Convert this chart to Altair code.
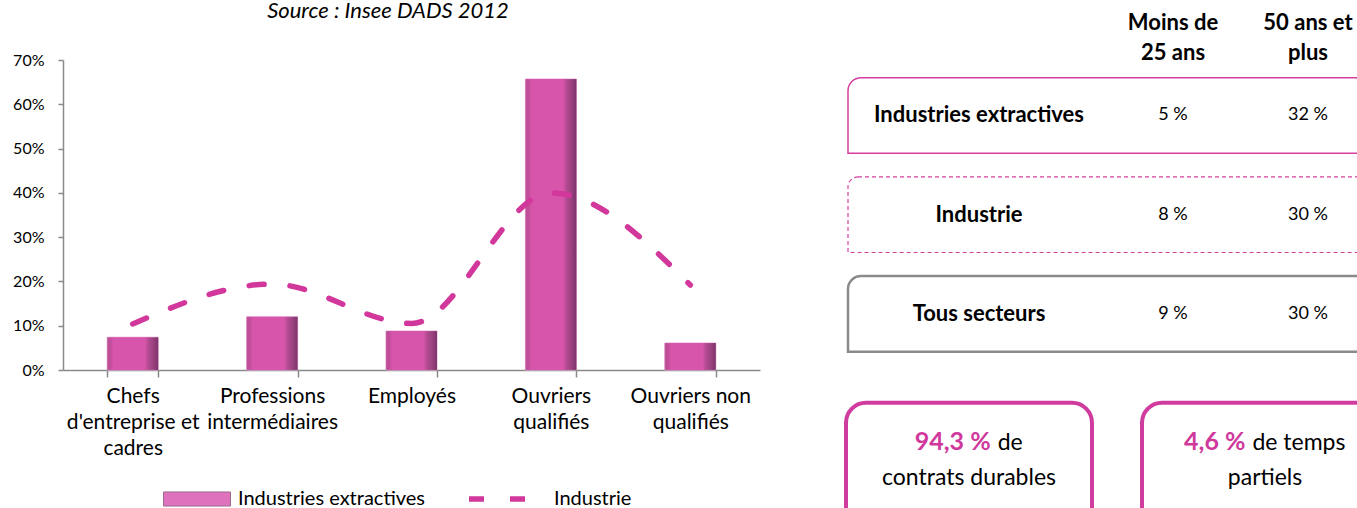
import altair as alt
import pandas as pd

# ---------------- data ----------------
categories = ["Chefs|d'entreprise et|cadres", "Professions|intermédiaires", "Employés",
              "Ouvriers|qualifiés", "Ouvriers non|qualifiés"]
extractives = [0.074, 0.120, 0.088, 0.657, 0.061]
industrie = [0.104, 0.194, 0.105, 0.400, 0.192]
y_ticks = [0, 0.1, 0.2, 0.3, 0.4, 0.5, 0.6, 0.7]
series_names = ["Industries extractives", "Industrie"]

table_rows = ["Industries extractives", "Industrie", "Tous secteurs"]
table_cols = ["Moins de 25 ans", "50 ans et plus"]
header_labels = ["Moins de\n25 ans", "50 ans et\nplus"]
moins_25 = ["5 %", "8 %", "9 %"]
plus_50 = ["32 %", "30 %", "30 %"]

kpi_values = ["94,3 %", "4,6 %"]
kpi_suite = ["de", "de temps"]
kpi_line2 = ["contrats durables", "partiels"]

source_text = ["Source : Insee DADS 2012"]

# ---------------- styles ----------------
FONT = "Lato"
PINK = "#D2389B"
GRAY = "#8A8A8A"

bars_df = pd.DataFrame({"cat": categories, "val": extractives, "serie": series_names[0]})
line_df = pd.DataFrame({"cat": categories, "val": industrie, "serie": series_names[1]})

x_enc = alt.X("cat:N", sort=categories,
              scale=alt.Scale(paddingInner=0.634, paddingOuter=0.317),
              axis=alt.Axis(title=None, labelExpr="split(datum.label, '|')", tickBand="extent",
                            labelAngle=0, labelFont=FONT, labelFontSize=21, labelLineHeight=26,
                            labelColor="black", labelPadding=8, labelLimit=0, labelOverlap=False,
                            domainColor=GRAY, domainWidth=1.5, tickColor=GRAY, tickWidth=1.5,
                            tickSize=7))
y_enc = alt.Y("val:Q", scale=alt.Scale(domain=[0, 0.7], nice=False),
              axis=alt.Axis(title=None, values=y_ticks, format=".0%", grid=False,
                            labelFont=FONT, labelFontSize=16, labelColor="black", labelPadding=14,
                            domainColor=GRAY, domainWidth=1.5, tickColor=GRAY, tickWidth=1.5,
                            tickSize=5))

bars = alt.Chart(bars_df).mark_bar(stroke="#EAA6D5", strokeWidth=1).encode(
    x=x_enc, y=y_enc,
    fill=alt.Fill("serie:N", scale=alt.Scale(domain=[series_names[0]], range=["#DE72BC"]),
                  legend=alt.Legend(title=None, orient="none", legendX=100, legendY=405,
                                    symbolType="M-1,-0.21H1V0.21H-1Z", symbolSize=4489,
                                    symbolStrokeColor="#9B6A8E", symbolStrokeWidth=1,
                                    labelFont=FONT, labelFontSize=20, labelColor="black",
                                    labelOffset=7, labelLimit=0)))
shade = alt.Chart(bars_df).mark_bar(fill={
    "gradient": "linear", "x1": 0, "x2": 1, "y1": 0, "y2": 0,
    "stops": [{"offset": 0, "color": "rgba(150,40,110,0.45)"},
              {"offset": 0.12, "color": "rgba(214,83,170,0.92)"},
              {"offset": 0.74, "color": "rgba(214,83,170,0.92)"},
              {"offset": 0.88, "color": "rgba(120,40,95,0.6)"},
              {"offset": 1, "color": "rgba(100,35,85,0.8)"}]}).encode(x=x_enc, y=y_enc)

line = alt.Chart(line_df).mark_line(interpolate="monotone", strokeWidth=5.5, strokeCap="round",
                                    color=PINK).encode(
    x=x_enc, y=y_enc,
    strokeDash=alt.StrokeDash("serie:N", scale=alt.Scale(domain=[series_names[1]], range=[[15, 26]]),
                              legend=alt.Legend(title=None, orient="none", legendX=403, legendY=399,
                                                symbolType="stroke", symbolSize=5476,
                                                symbolStrokeWidth=5.5, symbolStrokeColor=PINK,
                                                labelFont=FONT, labelFontSize=20,
                                                labelColor="black", labelOffset=8,
                                                labelLimit=0)))

left = alt.layer(bars, shade, line)

source = alt.Chart(pd.DataFrame({"t": source_text})).mark_text(
    font=FONT, fontSize=22, fontStyle="italic", color="black", align="center",
    baseline="alphabetic").encode(x=alt.value(325), y=alt.value(-42), text="t:N")

# ---------------- right side ----------------
rows_df = pd.DataFrame({"row": table_rows})
rows_scale = alt.Scale(type="band", domain=table_rows, range=[17.7, 291.7],
                       paddingInner=0.238, paddingOuter=0)
y_row = alt.Y("row:N", scale=rows_scale, axis=None)


def row_box(i, **style):
    return alt.Chart(rows_df).transform_filter(
        alt.datum.row == table_rows[i]).mark_rect(fill="white", **style).encode(
        y=y_row, x=alt.value(785), x2=alt.value(1340))


box1 = row_box(0, stroke="#D63F9F", strokeWidth=1.5, cornerRadiusTopLeft=13)
box2 = row_box(1, stroke="#D63F9F", strokeWidth=1.2, strokeDash=[4, 3], cornerRadiusTopLeft=10)
box3 = row_box(2, stroke=GRAY, strokeWidth=2.5, cornerRadiusTopLeft=13)

row_labels = alt.Chart(rows_df).mark_text(font=FONT, fontSize=22, fontWeight="bold",
                                          color="black", baseline="middle").encode(
    y=alt.Y("row:N", scale=rows_scale, axis=None, bandPosition=0.5),
    x=alt.value(916), text="row:N")

vals_df = pd.DataFrame({
    "row": table_rows * 2,
    "col": [table_cols[0]] * 3 + [table_cols[1]] * 3,
    "valeur": moins_25 + plus_50,
})
col_scale = alt.Scale(type="point", domain=table_cols, range=[1110, 1245], padding=0)
vals_text = alt.Chart(vals_df).mark_text(font=FONT, fontSize=18, color="black",
                                         baseline="middle").encode(
    y=alt.Y("row:N", scale=rows_scale, axis=None, bandPosition=0.5),
    x=alt.X("col:N", scale=col_scale, axis=None), text="valeur:N")

head_df = pd.DataFrame({"col": table_cols, "header": header_labels})
head_text = alt.Chart(head_df).mark_text(font=FONT, fontSize=22, fontWeight="bold",
                                         color="black", baseline="middle",
                                         lineBreak="\n", lineHeight=30).encode(
    x=alt.X("col:N", scale=col_scale, axis=None), y=alt.value(-37), text="header:N")

kpi_df = pd.DataFrame({"kpi": kpi_values, "suite": kpi_suite, "ligne2": kpi_line2})
KPI_RANGE = [783, 1325]
KPI_PAD = 0.169
kpi_scale = alt.Scale(type="band", domain=kpi_values, range=KPI_RANGE,
                      paddingInner=KPI_PAD, paddingOuter=0)
half_band = (KPI_RANGE[1] - KPI_RANGE[0]) / (len(kpi_values) - KPI_PAD) * (1 - KPI_PAD) / 2

kpi_box = alt.Chart(kpi_df).mark_rect(fill="white", stroke="#CF3C9D", strokeWidth=4,
                                      cornerRadius=20).encode(
    x=alt.X("kpi:N", scale=kpi_scale, axis=None), y=alt.value(342.7), y2=alt.value(475))

kpi_base = alt.Chart(kpi_df).transform_calculate(
    split=f"{half_band} + (length(datum.kpi) * 12.3 - length(datum.suite) * 11.7 - 7) / 2"
).transform_calculate(split2="datum.split + 7")
kpi_val = kpi_base.mark_text(font=FONT, fontSize=25, fontWeight="bold", color="#D0399C",
                             align="right", baseline="middle").encode(
    x=alt.X("kpi:N", scale=kpi_scale, axis=None),
    xOffset=alt.XOffset("split:Q", scale=None),
    y=alt.value(382), text="kpi:N")
kpi_suf = kpi_base.mark_text(font=FONT, fontSize=23, color="black",
                             align="left", baseline="middle").encode(
    x=alt.X("kpi:N", scale=kpi_scale, axis=None),
    xOffset=alt.XOffset("split2:Q", scale=None),
    y=alt.value(383), text="suite:N")
kpi_l2 = kpi_base.mark_text(font=FONT, fontSize=23, color="black",
                            align="center", baseline="middle").encode(
    x=alt.X("kpi:N", scale=kpi_scale, axis=None, bandPosition=0.5),
    y=alt.value(418), text="ligne2:N")

chart = alt.layer(
    left, source, box1, box2, box3, row_labels, vals_text, head_text, kpi_box, kpi_val,
    kpi_suf, kpi_l2
).resolve_scale(x="independent", y="independent").properties(
    width=697, height=310,
    autosize=alt.AutoSizeParams(type="none"),
    padding={"left": 63, "top": 60, "right": 597, "bottom": 138},
    background="white",
).configure_view(stroke=None)

chart.save("out.html", embed_options={"renderer": "svg", "actions": False})
